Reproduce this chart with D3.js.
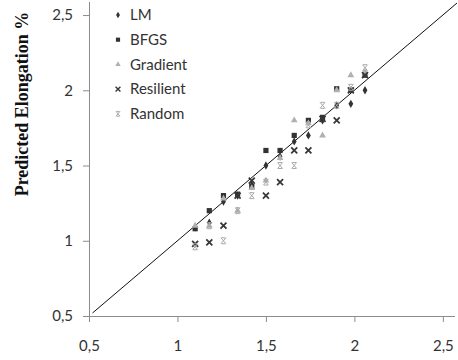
<!DOCTYPE html>
<html>
<head>
<meta charset="utf-8">
<script src="https://cdn.jsdelivr.net/npm/d3@7"></script>
<style>
  body { margin: 0; background: #fff; }
  svg { display: block; }
</style>
</head>
<body>
<div id="chart"></div>
<script>
// measured (x) values shared by all methods
const measured = [1.1, 1.18, 1.26, 1.34, 1.42, 1.5, 1.58, 1.66, 1.74, 1.82, 1.9, 1.98, 2.06];

const lmValues        = [1.09, 1.12, 1.26, 1.3, 1.37, 1.5, 1.56, 1.66, 1.7, 1.8, 1.9, 1.91, 2.0];
const bfgsValues      = [1.08, 1.2, 1.3, 1.31, 1.36, 1.6, 1.6, 1.7, 1.8, 1.82, 2.01, 2.0, 2.1];
const gradientValues  = [1.1, 1.1, 1.28, 1.2, 1.35, 1.4, 1.55, 1.8, 1.78, 1.7, 2.0, 2.1, 2.12];
const resilientValues = [0.98, 0.99, 1.1, 1.3, 1.4, 1.3, 1.39, 1.6, 1.6, 1.81, 1.8, 2.0, 2.1];
const randomValues    = [0.96, 1.1, 1.0, 1.2, 1.3, 1.39, 1.5, 1.5, 1.77, 1.9, 1.9, 2.02, 2.15];

const seriesNames = ['LM', 'BFGS', 'Gradient', 'Resilient', 'Random'];
const seriesValues = [lmValues, bfgsValues, gradientValues, resilientValues, randomValues];

const xTicks = [0.5, 1, 1.5, 2, 2.5];
const yTicks = [0.5, 1, 1.5, 2, 2.5];
const axisDomain = [0.5, 2.58];
const refLine = [0.52, 2.58];

const width = 458, height = 360;

const svg = d3.select('#chart').append('svg')
  .attr('width', width)
  .attr('height', height);

const x = d3.scaleLinear().domain(axisDomain).range([89, 457]);
const y = d3.scaleLinear().domain(axisDomain).range([316, 3]);

const fmt = d => String(d).replace('.', ',');
const tickFont = 'Lato, "Open Sans", sans-serif';

// axes
const xAxis = svg.append('g')
  .attr('transform', `translate(0,${y(0.5)})`)
  .call(d3.axisBottom(x).tickValues(xTicks).tickFormat(fmt).tickSize(6).tickPadding(18));
const yAxis = svg.append('g')
  .attr('transform', `translate(${x(0.5)},0)`)
  .call(d3.axisLeft(y).tickValues(yTicks).tickFormat(fmt).tickSize(6).tickPadding(10));

[xAxis, yAxis].forEach(g => {
  g.selectAll('.tick line').attr('stroke', '#8c8c8c');
  g.selectAll('.tick text')
    .attr('fill', '#333')
    .style('font-family', tickFont)
    .style('font-size', '15px');
});
// plain axis lines without end caps
xAxis.select('.domain').remove();
yAxis.select('.domain').remove();
svg.append('line')
  .attr('x1', x(0.5)).attr('x2', x(axisDomain[1]) - 2)
  .attr('y1', y(0.5) + 0.5).attr('y2', y(0.5) + 0.5)
  .attr('stroke', '#8c8c8c');
svg.append('line')
  .attr('x1', x(0.5) + 0.5).attr('x2', x(0.5) + 0.5)
  .attr('y1', y(0.5)).attr('y2', y(axisDomain[1]) - 1)
  .attr('stroke', '#8c8c8c');

// y = x reference line
svg.append('line')
  .attr('x1', x(refLine[0])).attr('y1', y(refLine[0]))
  .attr('x2', x(refLine[1])).attr('y2', y(refLine[1]))
  .attr('stroke', '#111')
  .attr('stroke-width', 1);

// y axis title
svg.append('text')
  .attr('transform', 'translate(28,104) rotate(-90)')
  .attr('text-anchor', 'middle')
  .style('font-family', '"Liberation Serif", "Times New Roman", serif')
  .style('font-weight', 'bold')
  .style('font-size', '18px')
  .attr('fill', '#111')
  .text('Predicted Elongation %');

// marker drawers
const markers = {
  LM: (g, s) => g.append('path')
    .attr('d', d3.symbol(d3.symbolDiamond, 20 * s * s)())
    .attr('fill', '#333'),
  BFGS: (g, s) => g.append('rect')
    .attr('x', -2.6 * s).attr('y', -2.6 * s)
    .attr('width', 5.2 * s).attr('height', 5.2 * s)
    .attr('fill', '#333'),
  Gradient: (g, s) => g.append('path')
    .attr('d', d3.symbol(d3.symbolTriangle, 20 * s * s)())
    .attr('fill', '#b0b0b0'),
  Resilient: (g, s) => g.append('path')
    .attr('d', `M${-3 * s},${-3 * s}L${3 * s},${3 * s}M${3 * s},${-3 * s}L${-3 * s},${3 * s}`)
    .attr('stroke', '#383838').attr('stroke-width', 1.8 * s).attr('fill', 'none'),
  Random: (g, s) => g.append('path')
    .attr('d', `M${-2.5 * s},${-3 * s}L${2.5 * s},${3 * s}M${2.5 * s},${-3 * s}L${-2.5 * s},${3 * s}` +
      `M${-2 * s},${-3 * s}H${2 * s}M${-2 * s},${3 * s}H${2 * s}`)
    .attr('stroke', '#a8a8a8').attr('stroke-width', 1).attr('fill', 'none')
};

// points
seriesNames.forEach((name, i) => {
  const g = svg.append('g').attr('class', 'series-' + name);
  seriesValues[i].forEach((v, j) => {
    const p = g.append('g').attr('transform', `translate(${x(measured[j])},${y(v)})`);
    markers[name](p, 1);
  });
});

// legend
const legend = svg.append('g').attr('transform', 'translate(118,15)');
seriesNames.forEach((name, i) => {
  const row = legend.append('g').attr('transform', `translate(0,${i * 24.7})`);
  markers[name](row.append('g'), 0.8);
  row.append('text')
    .attr('x', 12)
    .attr('dy', '0.35em')
    .attr('fill', '#333')
    .style('font-family', tickFont)
    .style('font-size', '15px')
    .text(name);
});
</script>
</body>
</html>
